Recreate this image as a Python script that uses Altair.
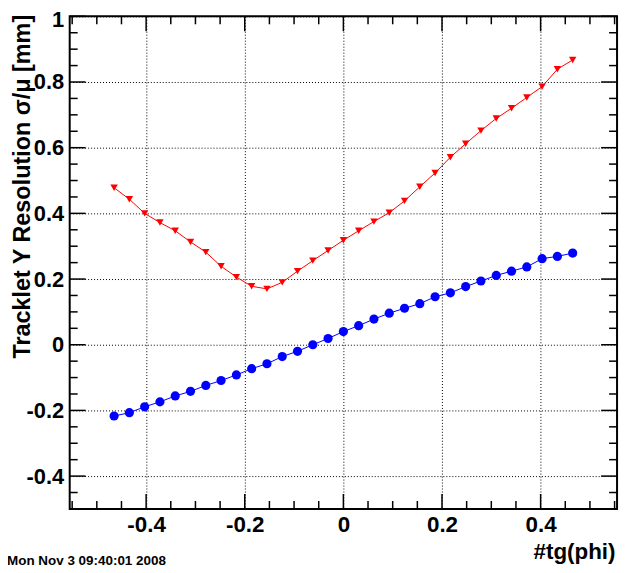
import altair as alt
import pandas as pd

# ---- data ----
x_vals = [-0.465, -0.434, -0.403, -0.372, -0.341, -0.310, -0.279, -0.248, -0.217, -0.186,
          -0.155, -0.124, -0.093, -0.062, -0.031, 0.000, 0.031, 0.062, 0.093, 0.124,
          0.155, 0.186, 0.217, 0.248, 0.279, 0.310, 0.341, 0.372, 0.403, 0.434, 0.465]
sigma_vals = [0.478, 0.443, 0.400, 0.372, 0.347, 0.313, 0.282, 0.239, 0.206, 0.178,
              0.170, 0.190, 0.224, 0.256, 0.287, 0.318, 0.347, 0.375, 0.402, 0.438,
              0.481, 0.523, 0.571, 0.612, 0.652, 0.689, 0.720, 0.753, 0.786, 0.839, 0.867]
mu_vals = [-0.217, -0.207, -0.189, -0.174, -0.156, -0.142, -0.124, -0.109, -0.092, -0.073,
           -0.058, -0.036, -0.020, 0.000, 0.019, 0.040, 0.058, 0.078, 0.096, 0.111,
           0.125, 0.146, 0.158, 0.177, 0.194, 0.211, 0.224, 0.237, 0.262, 0.269, 0.279]

x_major = [-0.4, -0.2, 0.0, 0.2, 0.4]
x_minor = [-0.55, -0.5, -0.45, -0.35, -0.3, -0.25, -0.15, -0.1, -0.05,
           0.05, 0.1, 0.15, 0.25, 0.3, 0.35, 0.45, 0.5, 0.55]
y_major = [-0.4, -0.2, 0.0, 0.2, 0.4, 0.6, 0.8, 1.0]
y_minor = [-0.5, -0.45, -0.35, -0.3, -0.25, -0.15, -0.1, -0.05, 0.05, 0.1, 0.15,
           0.25, 0.3, 0.35, 0.45, 0.5, 0.55, 0.65, 0.7, 0.75, 0.85, 0.9, 0.95]

x_title = "#tg(phi)"
y_title = "Tracklet Y Resolution σ/μ [mm]"
footer = "Mon Nov  3 09:40:01 2008"

# ---- chart ----
W, H = 550, 495
FONT = "Liberation Sans"
xs = alt.Scale(domain=[-0.555, 0.555], nice=False, zero=False)
ys = alt.Scale(domain=[-0.5, 1.0], nice=False, zero=False)

df = pd.DataFrame({"x": x_vals, "sigma": sigma_vals, "mu": mu_vals})

x_axis = alt.Axis(values=x_major, labelExpr="'' + datum.value", grid=True,
                  gridDash=[1, 2], gridColor="black", gridOpacity=1, gridWidth=1,
                  ticks=False, domain=False, labelFont=FONT, labelFontWeight="bold",
                  labelFontSize=22.5, labelColor="black", labelPadding=5,
                  labelFlush=False, labelOverlap=False,
                  title=x_title, titleFont=FONT, titleFontWeight="bold",
                  titleFontSize=22.5, titleColor="black", titleAnchor="end",
                  titleAlign="right", titleX=W - 2, titleY=50,
                  titleBaseline="alphabetic")
y_axis = alt.Axis(values=y_major, labelExpr="'' + datum.value", grid=True,
                  gridDash=[1, 2], gridColor="black", gridOpacity=1, gridWidth=1,
                  ticks=False, domain=False, labelFont=FONT, labelFontWeight="bold",
                  labelFontSize=22, labelColor="black", labelPadding=6,
                  labelOffset={"condition": {"test": "datum.value == 1", "value": 3},
                               "value": 0},
                  labelFlush=False, labelOverlap=False,
                  title=y_title, titleFont=FONT, titleFontWeight="bold",
                  titleFontSize=23.5, titleColor="black", titleAnchor="end",
                  titleAlign="right", titleAngle=270, titleX=-47, titleY=-2,
                  titleBaseline="middle")

base = alt.Chart(df)

red_line = base.mark_line(color="#ff0000", strokeWidth=1).encode(
    x=alt.X("x:Q", scale=xs, axis=x_axis),
    y=alt.Y("sigma:Q", scale=ys, axis=y_axis),
)
red_pts = base.mark_point(shape="triangle-down", filled=True, color="#ff0000",
                          size=55, opacity=1).encode(
    x=alt.X("x:Q", scale=xs),
    y=alt.Y("sigma:Q", scale=ys),
)
blue_line = base.mark_line(color="#0000ff", strokeWidth=1).encode(
    x=alt.X("x:Q", scale=xs),
    y=alt.Y("mu:Q", scale=ys),
)
blue_pts = base.mark_point(shape="circle", filled=True, color="#0000ff",
                           size=85, opacity=1).encode(
    x=alt.X("x:Q", scale=xs),
    y=alt.Y("mu:Q", scale=ys),
)


def xticks(vals, y0, y1):
    return alt.Chart(pd.DataFrame({"v": vals})).mark_rule(
        color="black", strokeWidth=1.5).encode(
        x=alt.X("v:Q", scale=xs),
        y=alt.value(y0), y2=alt.value(y1))


def yticks(vals, x0, x1):
    return alt.Chart(pd.DataFrame({"v": vals})).mark_rule(
        color="black", strokeWidth=1.5).encode(
        y=alt.Y("v:Q", scale=ys),
        x=alt.value(x0), x2=alt.value(x1))


ticks = [
    xticks(x_major, H, H - 15), xticks(x_minor, H, H - 8),
    xticks(x_major, 0, 15), xticks(x_minor, 0, 8),
    yticks(y_major, 0, 16), yticks(y_minor, 0, 8),
    yticks(y_major, W, W - 16), yticks(y_minor, W, W - 8),
]

foot = alt.Chart(pd.DataFrame({"t": [footer]})).mark_text(
    align="left", baseline="alphabetic", font=FONT, fontWeight="bold",
    fontSize=13.5, color="black").encode(
    text="t:N", x=alt.value(-63), y=alt.value(551))

chart = alt.layer(red_line, blue_line, *ticks, red_pts, blue_pts, foot).properties(
    width=W, height=H,
    padding={"left": 62, "top": 7, "right": 10, "bottom": 60},
    autosize=alt.AutoSizeParams(type="none"),
    background="white",
).configure_view(stroke="black", strokeWidth=2)

chart.save("out.html", embed_options={"renderer": "svg", "actions": False})
